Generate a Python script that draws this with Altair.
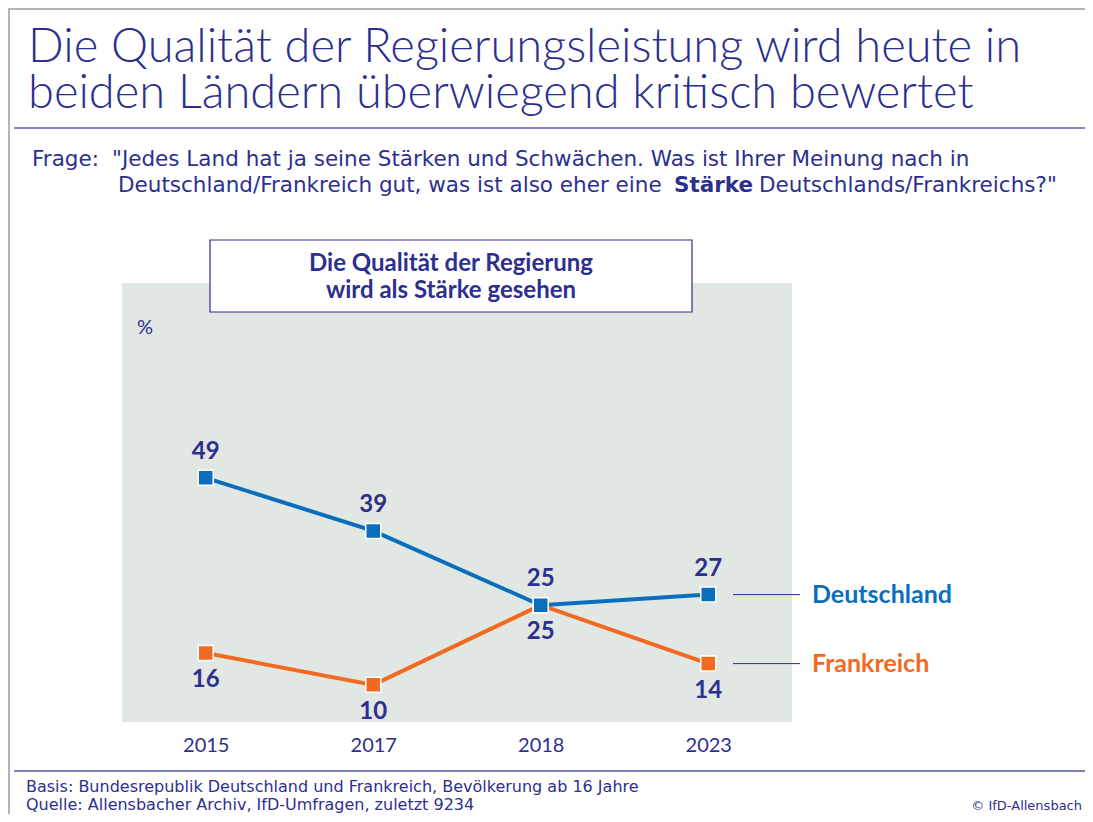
import altair as alt
import pandas as pd

# ---- data ----
years = ["2015", "2017", "2018", "2023"]
deutschland = [49, 39, 25, 27]
frankreich = [16, 10, 25, 14]
series_names = ["Deutschland", "Frankreich"]

title_lines = ["Die Qualität der Regierungsleistung wird heute in",
               "beiden Ländern überwiegend kritisch bewertet"]
frage_label = "Frage:"
frage_line1 = "\"Jedes Land hat ja seine Stärken und Schwächen. Was ist Ihrer Meinung nach in"
frage_line2_parts = ["Deutschland/Frankreich gut, was ist also eher eine", "Stärke",
                     "Deutschlands/Frankreichs?\""]
box_lines = ["Die Qualität der Regierung", "wird als Stärke gesehen"]
unit_label = "%"
footer_lines = ["Basis: Bundesrepublik Deutschland und Frankreich, Bevölkerung ab 16 Jahre",
                "Quelle: Allensbacher Archiv, IfD-Umfragen, zuletzt 9234"]
copyright_text = "© IfD-Allensbach"

# ---- styles ----
FONT = "Lato"
WIDE = "DejaVu Sans"
NAVY = "#2d2f8e"
BLUE = "#0a6ebd"
ORANGE = "#f26a21"
BG = "#e1e7e3"
colors = [BLUE, ORANGE]

rows = []
for s, vals in zip(series_names, [deutschland, frankreich]):
    for y, v in zip(years, vals):
        rows.append({"year": y, "value": v, "series": s})
df = pd.DataFrame(rows)

x_enc = alt.X("year:O", sort=years,
              scale=alt.Scale(type="point", padding=0.5),
              axis=alt.Axis(title=None, labelAngle=0, ticks=False, domain=False,
                            labelFontSize=20, labelColor=NAVY, labelPadding=13,
                            labelFont=FONT, grid=False))
y_enc = alt.Y("value:Q", scale=alt.Scale(domain=[3, 85.7], nice=False, zero=False),
              axis=None)
color_enc = alt.Color("series:N", scale=alt.Scale(domain=series_names, range=colors),
                      legend=None)

base = alt.Chart(df)

# Frankreich first (below), then Deutschland on top
layers = []
for s in ["Frankreich", "Deutschland"]:
    sub = base.transform_filter(alt.datum.series == s)
    layers.append(sub.mark_line(strokeWidth=4).encode(x=x_enc, y=y_enc, color=color_enc))
for s in ["Frankreich", "Deutschland"]:
    sub = base.transform_filter(alt.datum.series == s)
    layers.append(sub.mark_point(shape="square", filled=True, size=225, opacity=1,
                                 stroke="white", strokeWidth=1.5)
                  .encode(x=x_enc, y=y_enc, fill=color_enc))

# value labels
layers.append(base.transform_filter(alt.datum.series == "Deutschland")
              .mark_text(font=FONT, fontSize=24, fontWeight="bold", color=NAVY,
                         baseline="middle", dy=-26)
              .encode(x=x_enc, y=y_enc, text="value:Q"))
layers.append(base.transform_filter(alt.datum.series == "Frankreich")
              .mark_text(font=FONT, fontSize=24, fontWeight="bold", color=NAVY,
                         baseline="middle", dy=27)
              .encode(x=x_enc, y=y_enc, text="value:Q"))

# legend connectors and names at the last data point
last = base.transform_filter(alt.datum.year == years[-1])
layers.append(last.mark_rule(color=NAVY, strokeWidth=1)
              .encode(y=y_enc, x=alt.value(611), x2=alt.value(678)))
layers.append(last.mark_text(font=FONT, fontSize=25, fontWeight="bold", align="left",
                             baseline="middle")
              .encode(y=y_enc, x=alt.value(690), text="series:N",
                      color=alt.Color("series:N",
                                      scale=alt.Scale(domain=series_names, range=colors),
                                      legend=None)))


def txt(t, x, y, size, weight="normal", align="left", color=NAVY, font=FONT,
        baseline="alphabetic"):
    return alt.Chart(pd.DataFrame({"t": [t]})).mark_text(
        font=font, fontSize=size, fontWeight=weight, align=align, color=color,
        baseline=baseline).encode(x=alt.value(x), y=alt.value(y), text="t:N")


def rule(x, x2, y, y2, color, width):
    return alt.Chart(pd.DataFrame({"a": [0]})).mark_rule(
        color=color, strokeWidth=width).encode(
        x=alt.value(x), x2=alt.value(x2), y=alt.value(y), y2=alt.value(y2))


# box
box = alt.Chart(pd.DataFrame({"a": [0]})).mark_rect(
    fill="white", stroke=NAVY, strokeWidth=1.2).encode(
    x=alt.value(88), x2=alt.value(570), y=alt.value(-43), y2=alt.value(29))
layers.append(box)
layers.append(txt(box_lines[0], 329, -12, 24, "bold", "center"))
layers.append(txt(box_lines[1], 329, 15, 24, "bold", "center"))
layers.append(txt(unit_label, 15, 51, 20))

# titles
layers.append(txt(title_lines[0], -94, -221, 47, weight=300))
layers.append(txt(title_lines[1], -94, -175, 47, weight=300))
layers.append(rule(-108, 990, -155, -155, "#5b5ca8", 1.5))
FS = 21.5
layers.append(txt(frage_label, -90, -117, FS, font=WIDE))
layers.append(txt(frage_line1, -10, -117, FS, font=WIDE))
layers.append(txt(frage_line2_parts[0], -4, -91, FS, font=WIDE))
layers.append(txt(frage_line2_parts[1], 552, -91, FS, "bold", font=WIDE))
layers.append(txt(frage_line2_parts[2], 637, -91, FS, font=WIDE))

# footer
layers.append(rule(-108, 990, 488, 488, "#7f80bd", 2))
layers.append(txt(footer_lines[0], -96, 509, 16, font=WIDE))
layers.append(txt(footer_lines[1], -96, 527, 16, font=WIDE))
layers.append(txt(copyright_text, 960, 527, 13, align="right", font=WIDE))

# outer frame (top and left only)
layers.append(rule(-114, 990, -274, -274, "#b4b4b4", 2))
layers.append(rule(-113, -113, -275, 540, "#b4b4b4", 2))

chart = alt.layer(*layers).properties(
    width=670, height=439,
    padding={"left": 114, "top": 275, "right": 293, "bottom": 92},
    autosize=alt.AutoSizeParams(type="none"),
    background="white",
).configure_view(fill=BG, strokeWidth=0)

chart.save("out.html", embed_options={"renderer": "svg", "actions": False})
